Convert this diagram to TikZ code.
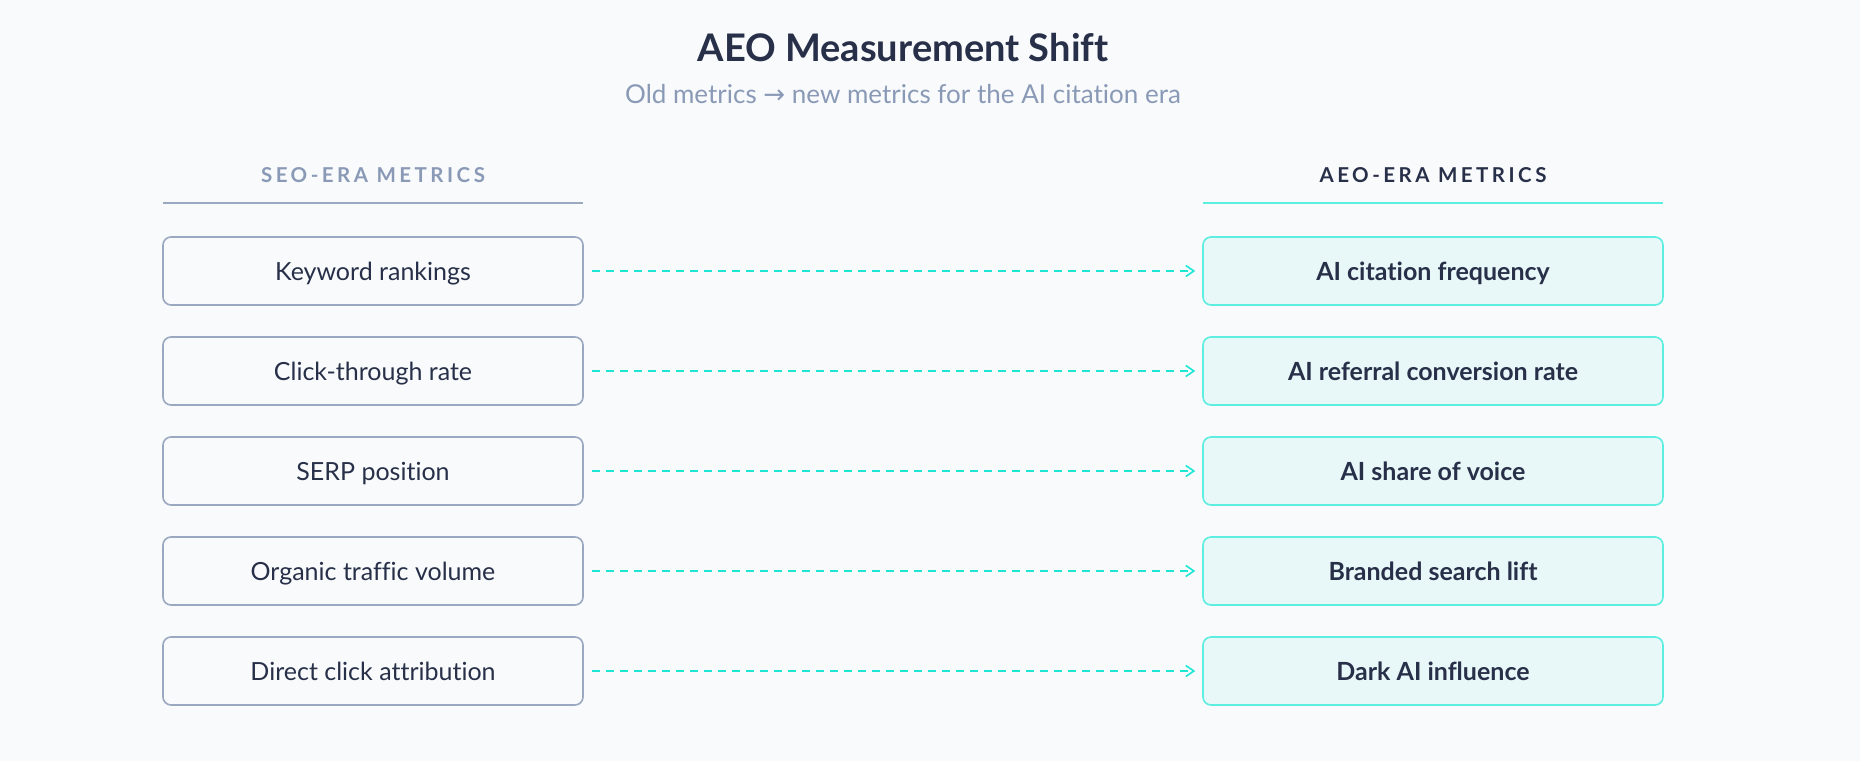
\documentclass[tikz,border=0pt]{standalone}
\usepackage{fontspec}
\setmainfont{Lato}[Ligatures=NoCommon]
\newfontfamily\symfont{DejaVu Sans}
\usepackage{tikz}
\usetikzlibrary{positioning,arrows.meta}
\definecolor{bg}{HTML}{F8FAFC}
\definecolor{ink}{HTML}{283049}
\definecolor{muted}{HTML}{8A9AB6}
\definecolor{rule}{HTML}{9AA8C0}
\definecolor{cyan}{HTML}{5CEEE0}
\definecolor{cyanline}{HTML}{1EE6D4}
\definecolor{cyanfill}{HTML}{E8F8F8}
\tikzset{
  oldbox/.style={draw=rule, line width=1.6pt, rounded corners=8pt, fill=bg,
    minimum width=420pt, minimum height=68pt, text height=18pt, text depth=0pt,
    text=ink, font=\fontsize{25}{30}\selectfont},
  newbox/.style={oldbox, draw=cyan, fill=cyanfill, minimum width=460pt,
    font=\fontsize{25}{30}\selectfont\bfseries},
  shiftline/.style={draw=cyanline, line width=1.6pt, dash pattern=on 8pt off 6pt,
    -{Straight Barb[length=8pt,width=11pt]}, shorten <=8pt, shorten >=7pt},
  headlab/.style={font=\fontsize{20.5}{24}\selectfont\bfseries\addfontfeatures{LetterSpace=17}},
  headrule/.style={line width=1.6pt},
}

\begin{document}
\begin{tikzpicture}[x=1pt,y=-1pt]
  \fill[bg] (0,0) rectangle (1860,761);
  \useasboundingbox (0,0) rectangle (1860,761);

  \node[text=ink, font=\fontsize{38}{44}\selectfont\bfseries] (title) at (903,48) {AEO Measurement Shift};
  \node[text=muted, font=\fontsize{26}{30}\selectfont] (sub) at (903,94) {Old metrics {\symfont →} new metrics for the AI citation era};

  \node[headlab, text=muted] (seohead) at (373,175) {SEO-ERA METRICS};
  \node[headlab, text=ink] (aeohead) at (1433,175) {AEO-ERA METRICS};
  \draw[headrule, draw=rule] (163,203) -- (583,203);
  \draw[headrule, draw=cyan] (1203,203) -- (1663,203);

  \foreach \i/\old/\new in {1/Keyword rankings/AI citation frequency,
      2/Click-through rate/AI referral conversion rate,
      3/SERP position/AI share of voice,
      4/Organic traffic volume/Branded search lift,
      5/Direct click attribution/Dark AI influence} {
    \node[oldbox] (old\i) at (373,{171+100*\i}) {\old};
    \node[newbox] (new\i) at (1433,{171+100*\i}) {\new};
    \draw[shiftline] (old\i) -- (new\i);
  }
\end{tikzpicture}
\end{document}
